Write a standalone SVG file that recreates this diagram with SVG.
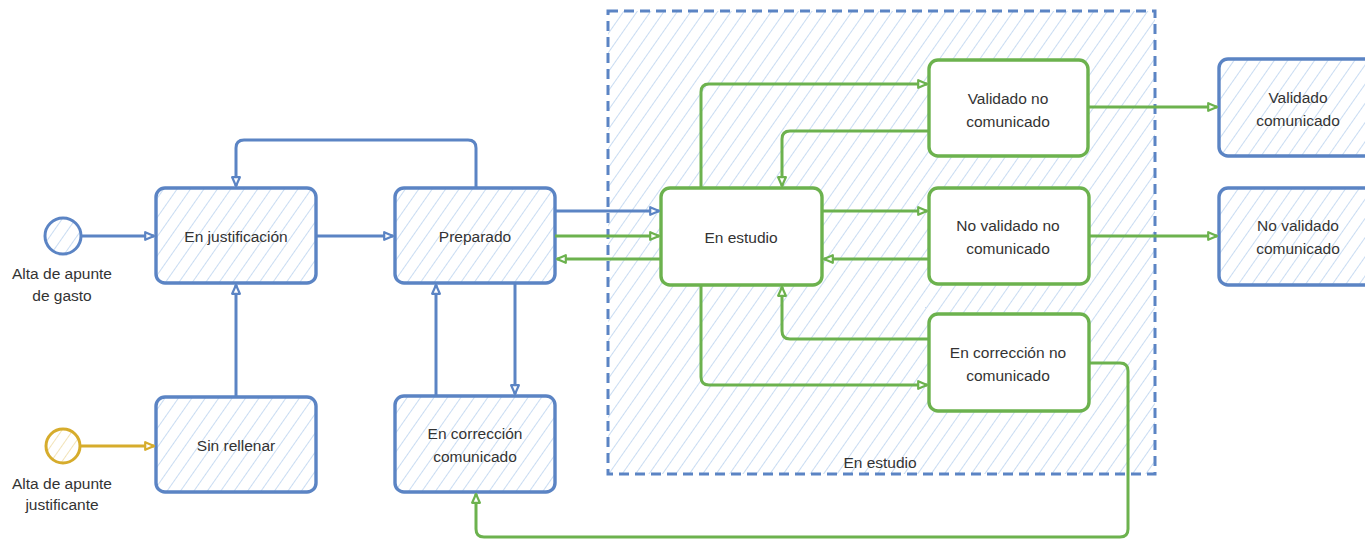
<svg xmlns="http://www.w3.org/2000/svg" width="1365" height="543" viewBox="0 0 1365 543">
<defs>
<pattern id="hatch" patternUnits="userSpaceOnUse" width="11" height="11" patternTransform="rotate(35)">
<rect width="11" height="11" fill="#ffffff"/>
<line x1="0" y1="0" x2="0" y2="11" stroke="#bcd3ef" stroke-width="1.6"/>
</pattern>
<pattern id="hatchY" patternUnits="userSpaceOnUse" width="9" height="9" patternTransform="rotate(35)">
<rect width="9" height="9" fill="#ffffff"/>
<line x1="0" y1="0" x2="0" y2="9" stroke="#efdca6" stroke-width="1.6"/>
</pattern>
<marker id="ab" viewBox="0 0 10 10" refX="9" refY="5" markerWidth="11" markerHeight="11" markerUnits="userSpaceOnUse" orient="auto">
<path d="M1,1.5 L9,5 L1,8.5 Z" fill="#ffffff" stroke="#5b84c4" stroke-width="2" stroke-linejoin="round"/>
</marker>
<marker id="ag" viewBox="0 0 10 10" refX="9" refY="5" markerWidth="11" markerHeight="11" markerUnits="userSpaceOnUse" orient="auto">
<path d="M1,1.5 L9,5 L1,8.5 Z" fill="#ffffff" stroke="#6cb24e" stroke-width="2" stroke-linejoin="round"/>
</marker>
<marker id="ay" viewBox="0 0 10 10" refX="9" refY="5" markerWidth="11" markerHeight="11" markerUnits="userSpaceOnUse" orient="auto">
<path d="M1,1.5 L9,5 L1,8.5 Z" fill="#ffffff" stroke="#d6ac2c" stroke-width="2" stroke-linejoin="round"/>
</marker>
</defs>
<style>
.bn{fill:url(#hatch);stroke:#5b84c4;stroke-width:3.4}
.gn{fill:#ffffff;stroke:#6cb24e;stroke-width:3.4}
.t{font-family:"Liberation Sans",Arial,sans-serif;font-size:15.5px;fill:#333333;text-anchor:middle}
.cb{fill:none;stroke:#5b84c4;stroke-width:3;stroke-linejoin:round}
.cg{fill:none;stroke:#6cb24e;stroke-width:3;stroke-linejoin:round}
.cy{fill:none;stroke:#d6ac2c;stroke-width:3}
</style>
<rect width="1365" height="543" fill="#ffffff"/>

<g id="container">
<rect x="608" y="11" width="547" height="463" fill="url(#hatch)" stroke="#5b84c4" stroke-width="3" stroke-dasharray="10 6"/>
<text class="t" x="880" y="468">En estudio</text>
</g>

<g id="start-gasto">
<circle cx="63" cy="236" r="18" fill="url(#hatch)" stroke="#5b84c4" stroke-width="3"/>
<text class="t" x="62" y="279">Alta de apunte</text>
<text class="t" x="62" y="301">de gasto</text>
</g>
<g id="start-justificante">
<circle cx="63" cy="446" r="17" fill="url(#hatchY)" stroke="#d6ac2c" stroke-width="3"/>
<text class="t" x="62" y="489">Alta de apunte</text>
<text class="t" x="62" y="510">justificante</text>
</g>

<g id="en-justificacion">
<rect class="bn" x="156" y="188" width="160" height="95" rx="9"/>
<text class="t" x="236" y="242">En justificación</text>
</g>
<g id="sin-rellenar">
<rect class="bn" x="156" y="397" width="160" height="95" rx="9"/>
<text class="t" x="236" y="451">Sin rellenar</text>
</g>
<g id="preparado">
<rect class="bn" x="395" y="188" width="160" height="95" rx="9"/>
<text class="t" x="475" y="242">Preparado</text>
</g>
<g id="en-correccion-comunicado">
<rect class="bn" x="395" y="396" width="160" height="96" rx="9"/>
<text class="t" x="475" y="439">En corrección</text>
<text class="t" x="475" y="462">comunicado</text>
</g>

<g id="en-estudio">
<rect class="gn" x="661" y="188" width="161" height="97" rx="9"/>
<text class="t" x="741" y="243">En estudio</text>
</g>
<g id="validado-no-comunicado">
<rect class="gn" x="929" y="60" width="159" height="96" rx="9"/>
<text class="t" x="1008" y="104">Validado no</text>
<text class="t" x="1008" y="127">comunicado</text>
</g>
<g id="no-validado-no-comunicado">
<rect class="gn" x="929" y="188" width="160" height="96" rx="9"/>
<text class="t" x="1008" y="231">No validado no</text>
<text class="t" x="1008" y="254">comunicado</text>
</g>
<g id="en-correccion-no-comunicado">
<rect class="gn" x="929" y="314" width="160" height="97" rx="9"/>
<text class="t" x="1008" y="358">En corrección no</text>
<text class="t" x="1008" y="381">comunicado</text>
</g>

<g id="validado-comunicado">
<rect class="bn" x="1219" y="59" width="160" height="97" rx="9"/>
<text class="t" x="1298" y="103">Validado</text>
<text class="t" x="1298" y="126">comunicado</text>
</g>
<g id="no-validado-comunicado">
<rect class="bn" x="1219" y="188" width="160" height="97" rx="9"/>
<text class="t" x="1298" y="231">No validado</text>
<text class="t" x="1298" y="254">comunicado</text>
</g>

<g id="connectors">
<path class="cb" d="M82,236 H154" marker-end="url(#ab)"/>
<path class="cy" d="M80,446 H154" marker-end="url(#ay)"/>
<path class="cb" d="M236,397 V285" marker-end="url(#ab)"/>
<path class="cb" d="M316,236 H393" marker-end="url(#ab)"/>
<path class="cb" d="M476,188 V148 Q476,140 468,140 H244 Q236,140 236,148 V186" marker-end="url(#ab)"/>
<path class="cb" d="M436,396 V285" marker-end="url(#ab)"/>
<path class="cb" d="M515,283 V394" marker-end="url(#ab)"/>
<path class="cb" d="M555,211 H659" marker-end="url(#ab)"/>
<path class="cg" d="M555,236 H659" marker-end="url(#ag)"/>
<path class="cg" d="M661,259 H557" marker-end="url(#ag)"/>
<path class="cg" d="M701,188 V92 Q701,84 709,84 H927" marker-end="url(#ag)"/>
<path class="cg" d="M929,131 H790 Q782,131 782,139 V186" marker-end="url(#ag)"/>
<path class="cg" d="M822,211 H927" marker-end="url(#ag)"/>
<path class="cg" d="M929,259 H824" marker-end="url(#ag)"/>
<path class="cg" d="M701,285 V377 Q701,385 709,385 H927" marker-end="url(#ag)"/>
<path class="cg" d="M929,339 H790 Q782,339 782,331 V287" marker-end="url(#ag)"/>
<path class="cg" d="M1088,107 H1217" marker-end="url(#ag)"/>
<path class="cg" d="M1089,236 H1217" marker-end="url(#ag)"/>
<path class="cg" d="M1089,363 H1120 Q1128,363 1128,371 V529 Q1128,537 1120,537 H484 Q476,537 476,529 V494" marker-end="url(#ag)"/>
</g>
</svg>
